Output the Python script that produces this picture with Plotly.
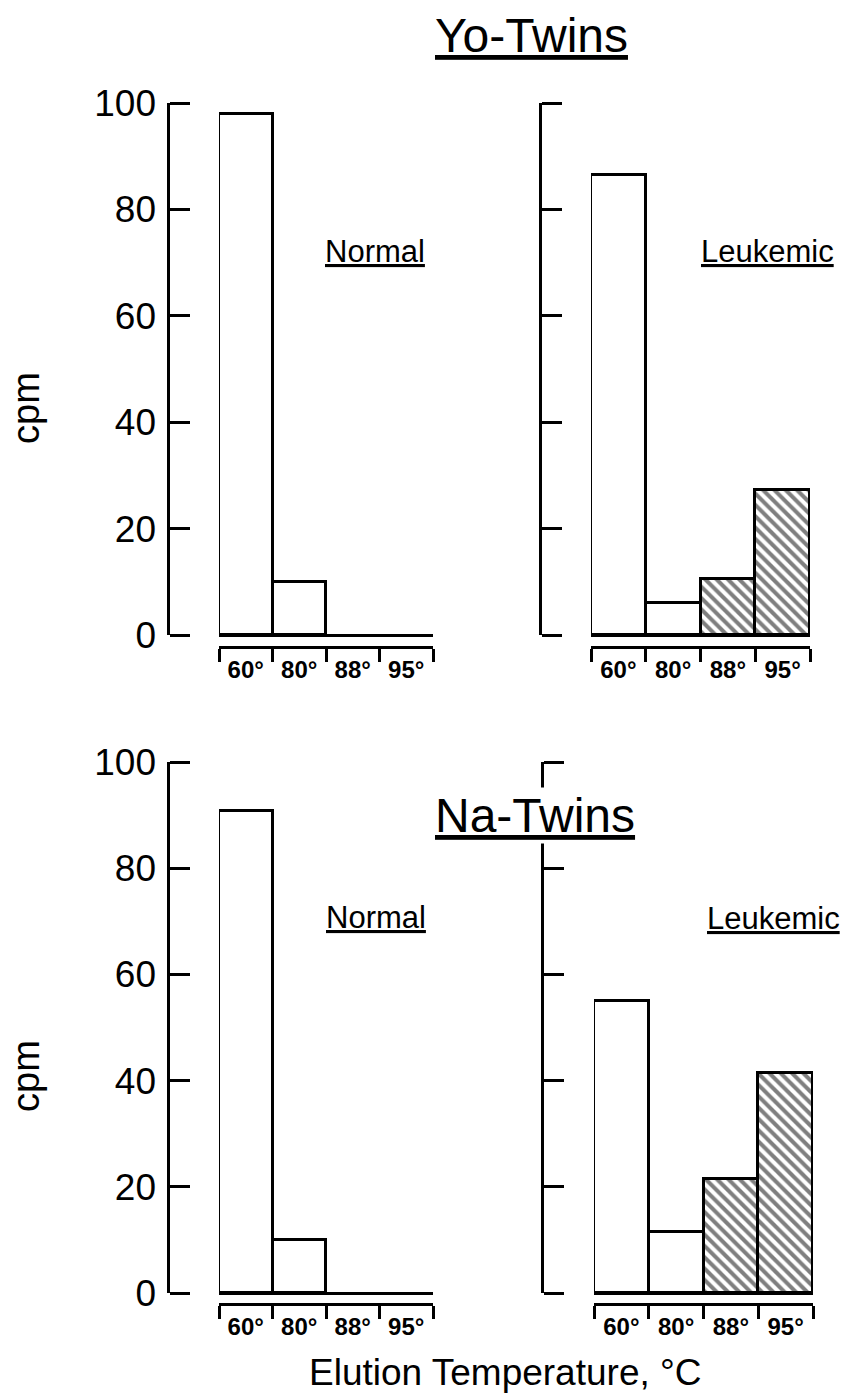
import plotly.graph_objects as go

W, H = 845, 1396

temps = ["60°", "80°", "88°", "95°"]
yo_normal = [98, 10, None, None]
yo_leukemic = [86.5, 6, 10.6, 27.2]
na_normal = [90.7, 10, None, None]
na_leukemic = [55, 11.5, 21.5, 41.4]
hatch = ["", "", "\\", "\\"]
y_ticks = [0, 20, 40, 60, 80, 100]

FONT = "Liberation Sans"

def px(x):
    return x / W

def py(y):
    return 1 - y / H

fig = go.Figure()

panels = [
    (yo_normal, (219, 433), 635, 103, 168, 647, True),
    (yo_leukemic, (591, 810), 635, 103, 540, 647, False),
    (na_normal, (219, 433), 1293, 762, 168, 1304, True),
    (na_leukemic, (594, 813), 1293, 762, 542, 1304, False),
]

label_axis = 5
for i, (vals, xd, y0, y100, ypos, brk, labels) in enumerate(panels, start=1):
    sfx = "" if i == 1 else str(i)
    fig.add_trace(go.Bar(
        x=temps, y=vals,
        xaxis="x" + sfx, yaxis="y" + sfx,
        marker=dict(color="white",
                    line=dict(color="black", width=3),
                    pattern=dict(shape=hatch, fgcolor="black", bgcolor="white",
                                 size=8, solidity=0.5, fillmode="overlay")),
        showlegend=False, hoverinfo="skip",
    ))
    fig.layout["xaxis" + sfx] = dict(
        domain=[px(xd[0]), px(xd[1])],
        anchor="free", position=py(brk),
        type="category", categoryorder="array", categoryarray=temps,
        range=[-0.5, 3.5],
        showline=True, linecolor="black", linewidth=3,
        ticks="outside", tickson="boundaries", ticklen=13, tickwidth=3,
        tickcolor="black",
        tickfont=dict(family=FONT, size=24, color="black", weight="bold"),
        showgrid=False, zeroline=False, fixedrange=True, automargin=False,
    )
    # tick axis: line on the left of the bars, ticks pointing right
    fig.layout["yaxis" + sfx] = dict(
        domain=[py(y0), py(y100)],
        anchor="free", position=px(ypos), side="right",
        range=[0, 100],
        tickmode="array", tickvals=y_ticks,
        showticklabels=False,
        showline=True, linecolor="black", linewidth=3,
        ticks="outside", ticklen=20, tickwidth=3, tickcolor="black",
        showgrid=False,
        zeroline=True, zerolinecolor="black", zerolinewidth=3,
        fixedrange=True, automargin=False,
    )
    if labels:
        fig.layout["yaxis" + str(label_axis)] = dict(
            overlaying="y" + sfx,
            anchor="free", position=px(ypos), side="left",
            range=[0, 100],
            tickmode="array", tickvals=y_ticks,
            ticktext=[str(v) for v in y_ticks],
            showticklabels=True, showline=False, ticks="",
            tickfont=dict(family=FONT, size=37, color="black"),
            ticklabelstandoff=12,
            showgrid=False, zeroline=False,
            fixedrange=True, automargin=False,
        )
        label_axis += 1

for k, ref in zip((5, 6), ("x", "x3")):
    fig.add_trace(go.Scatter(x=[temps[0]], y=[None], xaxis=ref, yaxis="y" + str(k),
                             mode="markers", showlegend=False, hoverinfo="skip"))

def note(text, x, y, size, under=True, bg=None):
    fig.add_annotation(
        text=text, x=px(x), y=py(y), xref="paper", yref="paper",
        xanchor="center", yanchor="middle", showarrow=False,
        font=dict(family=FONT, size=size, color="black",
                  lineposition="under" if under else "none"),
        bgcolor=bg,
    )

note("Yo-Twins", 531, 36, 48)
note("Na-Twins", 535, 815, 48, bg="white")
note("Normal", 375, 252, 31)
note("Leukemic", 767, 252, 31)
note("Normal", 376, 917, 31)
note("Leukemic", 773, 918, 31)
note("Elution Temperature, °C", 505, 1372, 37, under=False)

for cy in (408, 1076):
    fig.add_annotation(text="cpm", x=px(26), y=py(cy), xref="paper", yref="paper",
                       textangle=-90, showarrow=False, xanchor="center", yanchor="middle",
                       font=dict(family=FONT, size=38, color="black"))

fig.update_layout(
    width=W, height=H,
    margin=dict(l=0, r=0, t=0, b=0, pad=0, autoexpand=False),
    paper_bgcolor="white", plot_bgcolor="white",
    bargap=0, showlegend=False,
)

fig.write_html("out.html", config={"displayModeBar": False})
